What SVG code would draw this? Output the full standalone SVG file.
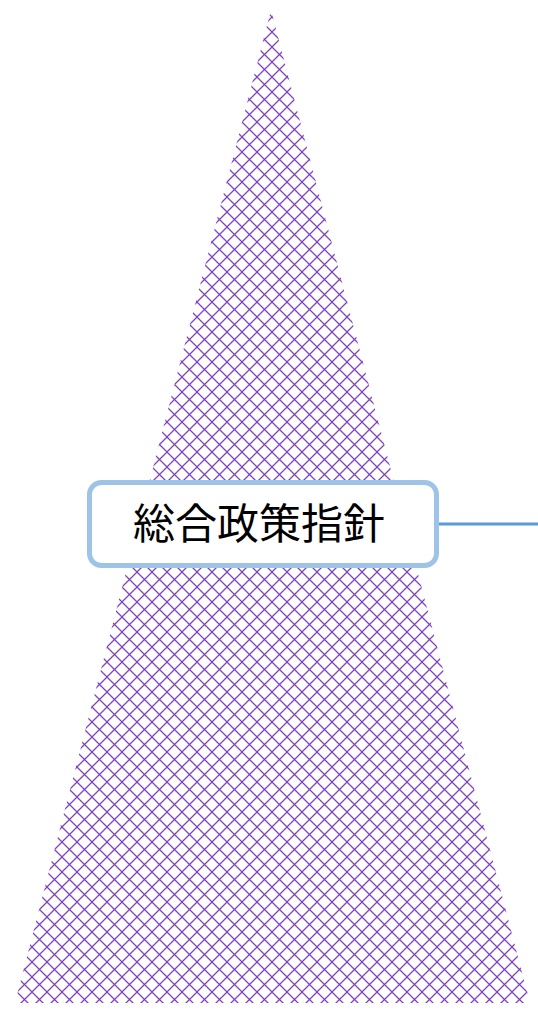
<svg xmlns="http://www.w3.org/2000/svg" width="538" height="1010" viewBox="0 0 538 1010">
<defs>
<pattern id="lattice" patternUnits="userSpaceOnUse" x="2" y="2" width="15" height="15">
<path d="M-1,-1 L16,16 M16,-1 L-1,16" stroke="#7e40c4" stroke-width="1.25" fill="none"/>
</pattern>
</defs>
<style>
.box{fill:#ffffff;stroke:#9dc3e6;stroke-width:5}
.lbl{font-family:"Noto Sans CJK JP","Noto Sans CJK SC",sans-serif;font-size:42px;fill:#000000}
.conn{stroke:#5b9bd5;stroke-width:3;fill:none}
</style>
<g id="pyramid">
<polygon points="271,10 530,1003 15,1003" fill="url(#lattice)"/>
</g>
<g id="connectors">
<line class="conn" x1="437" y1="524" x2="538" y2="524"/>
</g>
<g id="node-policy">
<rect class="box" x="89.5" y="482.5" width="347" height="83" rx="12" ry="12"/>
<text class="lbl" x="259" y="539" text-anchor="middle">総合政策指針</text>
</g>
</svg>
